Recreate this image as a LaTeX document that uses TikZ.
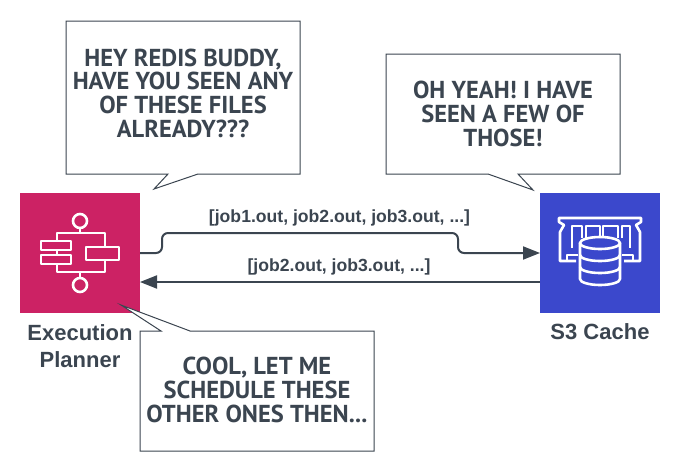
\documentclass[tikz,border=0pt]{standalone}
\usepackage{fontspec}
\setmainfont{Liberation Sans}
\newfontfamily\bubblefont{PT Sans}
\usetikzlibrary{calc}
\usetikzlibrary{arrows.meta}
\usetikzlibrary{positioning}
\definecolor{inkgray}{HTML}{3B4550}
\definecolor{plannerred}{HTML}{CC2264}
\definecolor{cacheblue}{HTML}{3B48CC}

\begin{document}
\begin{tikzpicture}[x=1pt, y=-1pt, every node/.style={inner sep=0pt, outer sep=0pt}]
	\tikzstyle{servicenode}=[minimum height=120pt, minimum width=120pt, text=white]
	\tikzstyle{servicelabel}=[font=\bfseries\fontsize{22}{27}\selectfont, text=inkgray, align=center]
	\tikzstyle{joblabel}=[font=\bfseries\fontsize{17.6}{18}\selectfont, text=inkgray]
	\tikzstyle{bubbletext}=[font=\bubblefont\bfseries\fontsize{24.5}{23.7}\selectfont, text=inkgray, align=center]
	\tikzstyle{bubbleline}=[draw=inkgray, line width=1pt, fill=white]
	\tikzstyle{jobarrow}=[draw=inkgray, line width=2pt, -{Triangle[length=17pt, width=13pt]}]
	\tikzstyle{iconline}=[draw=white, line width=2.6pt, line join=round]

	\useasboundingbox (0,0) rectangle (680,471);

	\node (planner) at (80,253) [servicenode, fill=plannerred] {};
	\node (cache) at (600,253) [servicenode, fill=cacheblue] {};

	\node (plannerlabel) [below=12pt of planner, servicelabel] {Execution\\Planner};
	\node (cachelabel) [below=11pt of cache, servicelabel] {S3 Cache};

	\draw [jobarrow, rounded corners=6pt] (planner.east) -- (162,253) -- (162,233) -- (458,233) -- (458,253) -- (cache.west);
	\draw [jobarrow] ([yshift=-29pt]cache.west) -- ([yshift=-29pt]planner.east);
	\node (joball) at (339.5,218) [joblabel] {[job1.out, job2.out, job3.out, ...]};
	\node (jobsome) at (339,267) [joblabel] {[job2.out, job3.out, ...]};

	\draw [bubbleline] (66,21) -- (300,21) -- (300,174) -- (198,174) -- (154,189) -- (168,174) -- (66,174) -- cycle;
	\draw [bubbleline] (386,54) -- (620,54) -- (620,174) -- (518,174) -- (533,190) -- (488,174) -- (386,174) -- cycle;
	\draw [bubbleline] (140,331) -- (161,331) -- (121,305) -- (190,331) -- (374,331) -- (374,451) -- (140,451) -- cycle;

	\node (asktext) at (183,93) [bubbletext] {HEY REDIS BUDDY,\\HAVE YOU SEEN ANY\\OF THESE FILES\\ALREADY???};
	\node (answertext) at (503,114) [bubbletext] {OH YEAH! I HAVE\\SEEN A FEW OF\\THOSE!};
	\node (cooltext) at (257,390) [bubbletext] {COOL, LET ME\\SCHEDULE THESE\\OTHER ONES THEN...};

	% planner icon
	\draw [iconline] (80,221) circle (7);
	\draw [iconline] (80,285) circle (7);
	\draw [iconline] (80,228) -- (80,233);
	\draw [iconline] (80,272) -- (80,278);
	\draw [iconline] (57,241) -- (57,233) -- (105,233) -- (105,247);
	\draw [iconline] (57,264) -- (57,272) -- (105,272) -- (105,260);
	\draw [iconline] (57,250) -- (57,255);
	\draw [iconline] (41,241) rectangle (71,250);
	\draw [iconline] (41,255) rectangle (71,264);
	\draw [iconline] (86,247) rectangle (119,260);

	% cache icon
	\draw [iconline] (576,261) -- (560,261) -- (560,232) -- (564,225) -- (559,222) -- (559,218) -- (641,218) -- (641,222) -- (636,225) -- (640,232) -- (640,261) -- (624,261);
	\draw [iconline] (572,248) -- (572,226) -- (582,226) -- (582,238);
	\draw [iconline] (586,238) -- (586,226) -- (600,226) -- (600,236);
	\draw [iconline] (603,236) -- (603,226) -- (618,226) -- (618,238);
	\draw [iconline] (622,238) -- (622,226) -- (630,226) -- (630,248);
	\draw [iconline] (567,261) -- (567,255) -- (578,255);
	\draw [iconline] (633,261) -- (633,255) -- (622,255);
	\draw [iconline, fill=cacheblue] (580,243) -- (580,279) arc[start angle=180, end angle=0, x radius=20, y radius=6] -- (620,243) -- cycle;
	\draw [iconline, fill=cacheblue] (600,243) ellipse [x radius=20, y radius=6];
	\draw [iconline] (580,255) arc[start angle=180, end angle=0, x radius=20, y radius=6];
	\draw [iconline] (580,267) arc[start angle=180, end angle=0, x radius=20, y radius=6];
\end{tikzpicture}
\end{document}
